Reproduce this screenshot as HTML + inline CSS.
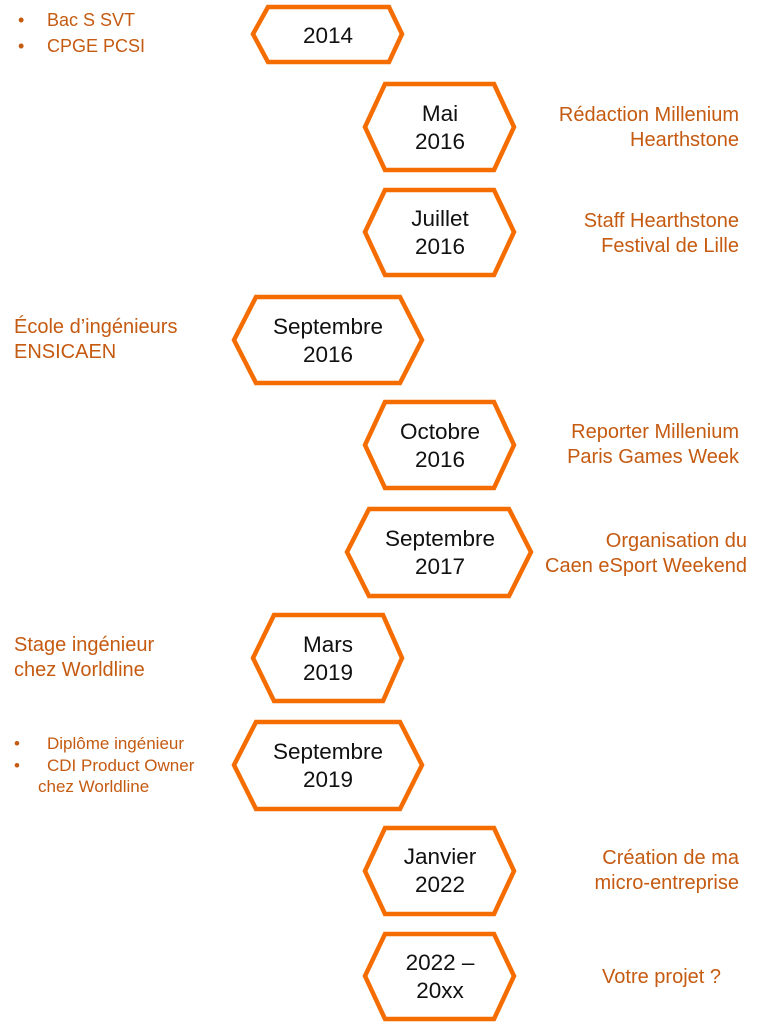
<!DOCTYPE html>
<html><head><meta charset="utf-8"><style>
html,body{margin:0;padding:0;background:#fff;}
svg{display:block;}
.h{fill:#fff;stroke:#f56c00;stroke-width:4.5;stroke-linejoin:miter;}
.t{font-family:"Liberation Sans",sans-serif;font-size:22.5px;fill:#111;text-anchor:middle;}
.o{font-family:"Liberation Sans",sans-serif;font-size:20px;fill:#c55a11;}
.b{font-family:"Liberation Sans",sans-serif;font-size:18px;fill:#c55a11;}
.s{font-family:"Liberation Sans",sans-serif;font-size:17px;fill:#c55a11;}
</style></head><body>
<svg width="763" height="1024" viewBox="0 0 763 1024">
<polygon class="h" points="253,34 268,7 389,7 402,34 389,62 268,62"/>
<text class="t" x="328" y="43">2014</text>
<text class="b" x="18" y="26">•</text><text class="b" x="47" y="26">Bac S SVT</text>
<text class="b" x="18" y="52">•</text><text class="b" x="47" y="52">CPGE PCSI</text>

<polygon class="h" points="365,127 385,84 494,84 514,127 494,170 385,170"/>
<text class="t" x="440" y="121">Mai</text><text class="t" x="440" y="149">2016</text>
<text class="o" x="739" y="121" text-anchor="end">Rédaction Millenium</text>
<text class="o" x="739" y="146" text-anchor="end">Hearthstone</text>

<polygon class="h" points="365,232 385,190 494,190 514,232 494,275 385,275"/>
<text class="t" x="440" y="226">Juillet</text><text class="t" x="440" y="254">2016</text>
<text class="o" x="739" y="227" text-anchor="end">Staff Hearthstone</text>
<text class="o" x="739" y="252" text-anchor="end">Festival de Lille</text>

<polygon class="h" points="234,340 256,297 400,297 422,340 400,383 256,383"/>
<text class="t" x="328" y="334">Septembre</text><text class="t" x="328" y="362">2016</text>
<text class="o" x="14" y="333">École d’ingénieurs</text>
<text class="o" x="14" y="358">ENSICAEN</text>

<polygon class="h" points="365,445 385,402 494,402 514,445 494,488 385,488"/>
<text class="t" x="440" y="439">Octobre</text><text class="t" x="440" y="467">2016</text>
<text class="o" x="739" y="438" text-anchor="end">Reporter Millenium</text>
<text class="o" x="739" y="463" text-anchor="end">Paris Games Week</text>

<polygon class="h" points="347,552 369,509 509,509 531,552 509,596 369,596"/>
<text class="t" x="440" y="546">Septembre</text><text class="t" x="440" y="574">2017</text>
<text class="o" x="747" y="547" text-anchor="end">Organisation du</text>
<text class="o" x="747" y="572" text-anchor="end">Caen eSport Weekend</text>

<polygon class="h" points="253,658 274,615 383,615 402,658 383,701 274,701"/>
<text class="t" x="328" y="652">Mars</text><text class="t" x="328" y="680">2019</text>
<text class="o" x="14" y="651">Stage ingénieur</text>
<text class="o" x="14" y="676">chez Worldline</text>

<polygon class="h" points="234,765 256,722 400,722 422,765 400,809 256,809"/>
<text class="t" x="328" y="759">Septembre</text><text class="t" x="328" y="787">2019</text>
<text class="s" x="14" y="749">•</text><text class="s" x="47" y="749">Diplôme ingénieur</text>
<text class="s" x="14" y="771">•</text><text class="s" x="47" y="771">CDI Product Owner</text>
<text class="s" x="38" y="792">chez Worldline</text>

<polygon class="h" points="365,871 385,828 494,828 514,871 494,914 385,914"/>
<text class="t" x="440" y="864">Janvier</text><text class="t" x="440" y="892">2022</text>
<text class="o" x="739" y="864" text-anchor="end">Création de ma</text>
<text class="o" x="739" y="889" text-anchor="end">micro-entreprise</text>

<polygon class="h" points="365,976 385,934 494,934 514,976 494,1019 385,1019"/>
<text class="t" x="440" y="970">2022 –</text><text class="t" x="440" y="998">20xx</text>
<text class="o" x="721" y="983" text-anchor="end">Votre projet ?</text>
</svg>
</body></html>
